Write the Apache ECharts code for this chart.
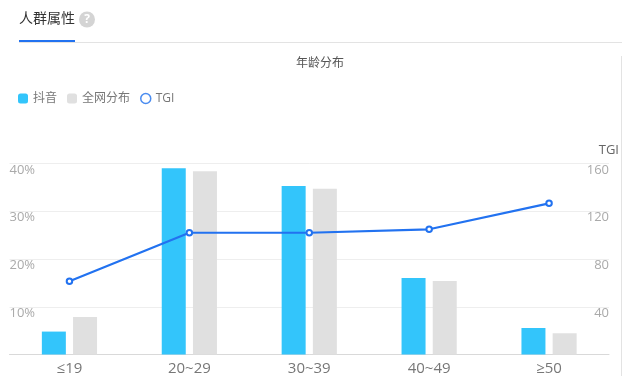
<!DOCTYPE html>
<html><head><meta charset="utf-8">
<style>html,body{margin:0;padding:0;background:#fff}#c{width:622px;height:388px}</style>
<script src="https://cdn.jsdelivr.net/npm/echarts@6/dist/echarts.min.js"></script>
</head><body><div id="c"></div>
<script>
const categories = ['≤19','20~29','30~39','40~49','≥50'];
const douyin = [4.8,39.0,35.3,16.0,5.55];
const network = [7.85,38.4,34.7,15.4,4.45];
const tgi = [61.3,102,102,104.9,126.6];
const font = '"Open Sans","Noto Sans CJK SC",sans-serif';
const chart = echarts.init(document.getElementById('c'));
chart.setOption({
  animation:false,
  textStyle:{fontFamily:font},
  title:[
    {text:'人群属性',left:19,top:12,padding:0,textStyle:{fontSize:14,fontWeight:'normal',color:'#333',fontFamily:font}},
    {text:'年龄分布',left:296,top:58,padding:0,textStyle:{fontSize:12,fontWeight:'normal',color:'#555',fontFamily:font}}
  ],
  legend:{left:18,top:92.5,padding:0,itemWidth:10,itemHeight:10,itemGap:10,selectedMode:false,
    textStyle:{fontSize:12,color:'#777',fontFamily:font},
    data:[{name:'抖音',icon:'roundRect'},{name:'全网分布',icon:'roundRect'},
      {name:'TGI',icon:'circle',itemStyle:{color:'#fff',borderColor:'#4a8cf0',borderWidth:1.5}}]},
  grid:{left:9.5,right:12.5,top:163.5,bottom:33.5,containLabel:false},
  xAxis:{type:'category',data:categories,
    axisLine:{lineStyle:{color:'#d9d9d9'}},axisTick:{show:false},
    axisLabel:{fontSize:15,color:'#777',margin:7}},
  yAxis:[
    {type:'value',min:0,max:40,interval:10,
      axisLine:{show:false},axisTick:{show:false},
      splitLine:{lineStyle:{color:'#eeeeee'}},
      axisLabel:{inside:true,margin:0,fontSize:13,color:'#aaa',verticalAlign:'top',
        formatter:v=>v===0?'':v+'%'}},
    {type:'value',min:0,max:160,interval:40,position:'right',
      name:'TGI',nameLocation:'end',nameGap:7,
      nameTextStyle:{fontSize:13,color:'#666',align:'right',padding:[0,-10,0,0]},
      axisLine:{show:false},axisTick:{show:false},splitLine:{show:false},
      axisLabel:{inside:true,margin:0,fontSize:13,color:'#aaa',verticalAlign:'top',
        formatter:v=>v===0?'':String(v)}}
  ],
  series:[
    {name:'抖音',type:'bar',data:douyin,barWidth:24,barGap:'30%',itemStyle:{color:'#33c5fb'}},
    {name:'全网分布',type:'bar',data:network,barWidth:24,itemStyle:{color:'#e0e0e0'}},
    {name:'TGI',type:'line',yAxisIndex:1,data:tgi,symbol:'circle',symbolSize:5.5,showSymbol:true,
      lineStyle:{color:'#2272f0',width:2.2},
      itemStyle:{color:'#fff',borderColor:'#2272f0',borderWidth:2}}
  ],
  graphic:[
    {type:'circle',shape:{cx:87,cy:19.5,r:8},style:{fill:'#d4d4d4'},silent:true},
    {type:'text',x:87,y:19.5,style:{text:'?',fill:'#fff',fontSize:12,fontWeight:'bold',align:'center',verticalAlign:'middle',fontFamily:font},silent:true},
    {type:'rect',shape:{x:19,y:42,width:603,height:1},style:{fill:'#e3e3e3'},silent:true},
    {type:'rect',shape:{x:19,y:40,width:56,height:2},style:{fill:'#2272f0'},silent:true},
    {type:'rect',shape:{x:621,y:56,width:1,height:320},style:{fill:'#e3e3e3'},silent:true}
  ]
});
</script></body></html>
